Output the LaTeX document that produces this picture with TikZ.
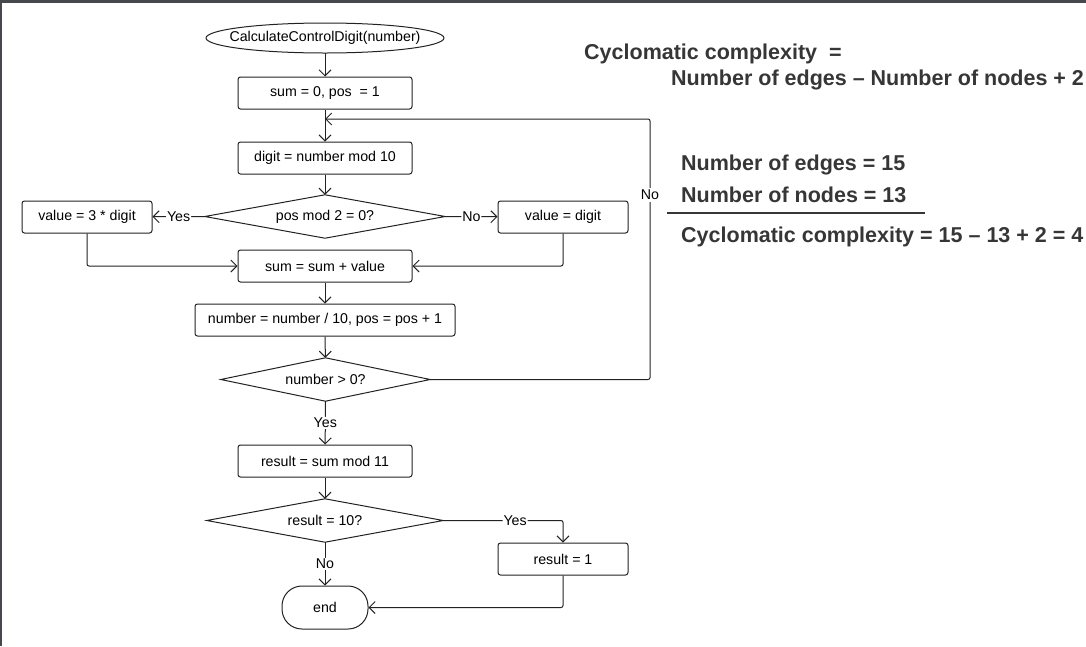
\documentclass[tikz,border=0pt]{standalone}
\usepackage{fontspec}
\setmainfont{Liberation Sans}
\usetikzlibrary{arrows.meta,shapes.geometric}
\definecolor{frame}{HTML}{45484D}
\definecolor{ink}{HTML}{222222}
\definecolor{heading}{HTML}{363636}
\tikzset{
  proc/.style={draw=ink, line width=1pt, rounded corners=2.5pt, font=\fontsize{14.2}{16}\selectfont, inner sep=0pt},
  decbox/.style={inner sep=0pt, font=\fontsize{14.2}{16}\selectfont},
  arr/.style={draw=ink, line width=1pt, -{Straight Barb[length=6pt,width=12pt]}, rounded corners=2pt},
  lbl/.style={fill=white, inner sep=1pt, font=\fontsize{14.2}{16}\selectfont},
  big/.style={anchor=base west, inner sep=0pt, text=heading, font=\fontsize{21.5}{24}\selectfont\bfseries},
}
\begin{document}
\begin{tikzpicture}[x=1pt,y=-1pt]
\useasboundingbox (0,0) rectangle (1086,646);
\fill[frame] (0,0) rectangle (1086,3);
\fill[frame] (0,0) rectangle (2,646);

% nodes
\node[decbox, minimum width=238, minimum height=30] (start) at (325,38) {CalculateControlDigit(number)};
\draw[draw=ink, line width=1pt] (start.center) ellipse [x radius=119, y radius=15];
\node[proc, minimum width=174, minimum height=32] (init) at (325,93) {sum = 0, pos \ = 1};
\node[proc, minimum width=174, minimum height=32] (digit) at (325,158) {digit = number mod 10};
\node[decbox, minimum width=240, minimum height=43] (d1) at (325,216.5) {pos mod 2 = 0?};
\node[proc, minimum width=130, minimum height=32] (v3) at (87,217) {value = 3 * digit};
\node[proc, minimum width=130, minimum height=32] (v1) at (563,217) {value = digit};
\node[proc, minimum width=174, minimum height=32] (sum) at (325,266) {sum = sum + value};
\node[proc, minimum width=260, minimum height=32] (num) at (325,320) {number = number / 10, pos = pos + 1};
\node[decbox, minimum width=209, minimum height=43] (d2) at (325.5,379.5) {number > 0?};
\node[proc, minimum width=174, minimum height=32] (res) at (325,461) {result = sum mod 11};
\node[decbox, minimum width=236, minimum height=43] (d3) at (325,520.5) {result = 10?};
\node[proc, minimum width=130, minimum height=32] (r1) at (563,559) {result = 1};
\node[proc, rounded corners=20pt, minimum width=86, minimum height=43] (end) at (325,607.5) {end};

% diamonds
\foreach \d in {d1,d2,d3}
  \draw[draw=ink, line width=1pt] (\d.north) -- (\d.east) -- (\d.south) -- (\d.west) -- cycle;

\coordinate (loopin) at (325,119);

% connectors
\draw[arr] (start) -- (init);
\draw[arr] (init) -- (digit);
\draw[arr] (digit) -- (d1);
\draw[arr] (d1.west) -- node[lbl]{Yes} (v3);
\draw[arr] (d1.east) -- node[lbl]{No} (v1);
\draw[arr] (v3.south) |- (sum.west);
\draw[arr] (v1.south) |- (sum.east);
\draw[arr] (sum) -- (num);
\draw[arr] (num) -- (d2);
\draw[arr] (d2.east) -- (650,379.5) |- (loopin);
\node[lbl, inner sep=2pt] (nolbl) at (650,195) {No};
\draw[arr] (d2.south) -- node[lbl]{Yes} (res);
\draw[arr] (res) -- (d3);
\draw[arr] (d3.east) -| node[lbl, pos=0.3]{Yes} (r1.north);
\draw[arr] (d3.south) -- node[lbl]{No} (end);
\draw[arr] (r1.south) |- (end.east);

% right-hand text
\node[big] (t1) at (584,59) {Cyclomatic complexity \ =};
\node[big] (t2) at (671,85) {Number of edges – Number of nodes + 2};
\node[big] (t3) at (681,170) {Number of edges = 15};
\node[big] (t4) at (681,202) {Number of nodes = 13};
\draw[heading, line width=2pt] (667,213) -- (925,213);
\node[big] (t5) at (681,242) {Cyclomatic complexity = 15 – 13 + 2 = 4};
\end{tikzpicture}
\end{document}
